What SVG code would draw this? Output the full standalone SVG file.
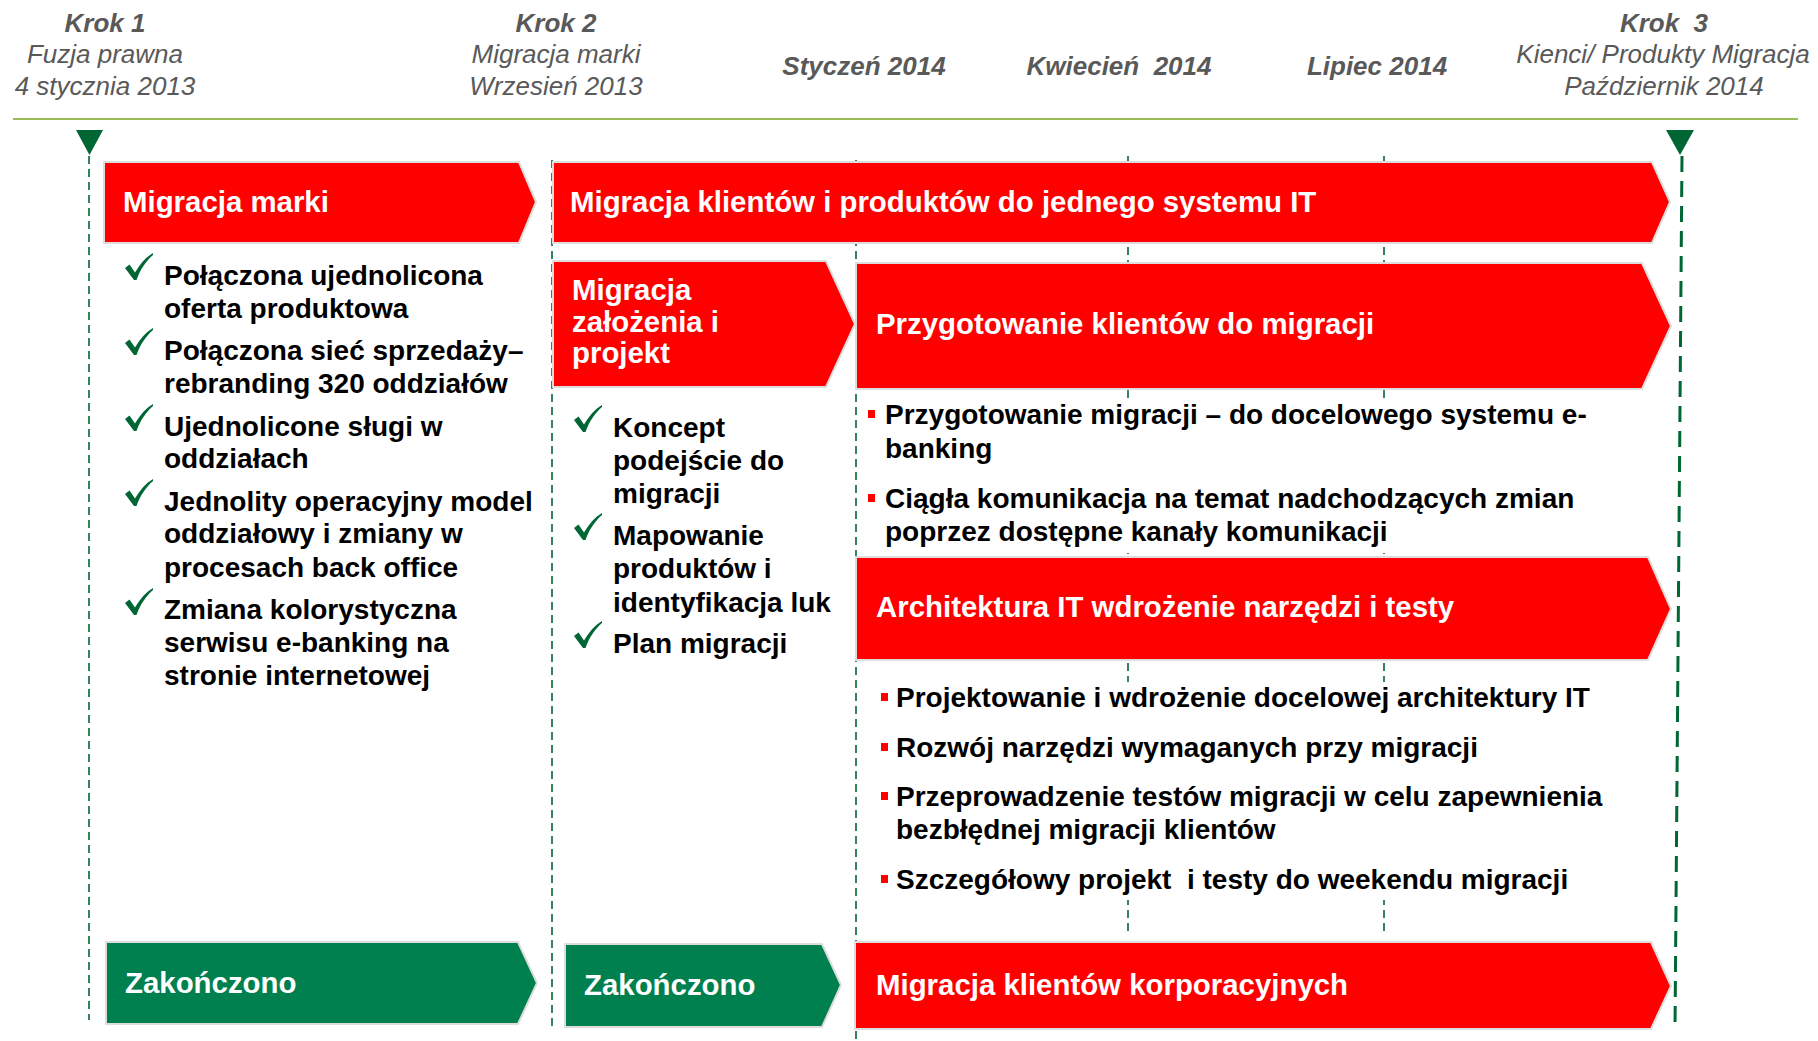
<svg xmlns="http://www.w3.org/2000/svg" xmlns:xlink="http://www.w3.org/1999/xlink" width="1818" height="1041" viewBox="0 0 1818 1041">
<style>
text{font-family:"Liberation Sans",Arial,sans-serif}
.hd{font-size:26px;fill:#595959;font-style:italic;text-anchor:middle}
.hb{font-weight:bold}
.bx{font-size:29.4px;font-weight:bold;fill:#fff}
.bd{font-size:28px;font-weight:bold;fill:#000}
.red{fill:#FF0000;stroke:#DDDDDD;stroke-width:2}
.grn{fill:#00804E;stroke:#DDDDDD;stroke-width:2}
.dl{stroke:#006633;stroke-width:1.6;stroke-dasharray:8,5;fill:none}
.dk{stroke:#006633;stroke-width:3;stroke-dasharray:16,9;fill:none}
.sq{fill:#FF0000}
</style>
<defs>
<symbol id="chk" viewBox="0 0 28 27" width="28" height="27">
<path d="M0,15 L4.5,11.5 L10,19.5 C15,11 21,4 28,0 L28,2 C21,8 15.5,16 11.5,27 L9,27 Z" fill="#006633"/>
</symbol>
</defs>
<rect width="1818" height="1041" fill="#fff"/>
<g id="header">
<text class="hd hb" x="105" y="32">Krok 1</text>
<text class="hd" x="105" y="63">Fuzja prawna</text>
<text class="hd" x="105" y="95">4 stycznia 2013</text>
<text class="hd hb" x="556" y="32">Krok 2</text>
<text class="hd" x="556" y="63">Migracja marki</text>
<text class="hd" x="556" y="95">Wrzesień 2013</text>
<text class="hd hb" x="864" y="75">Styczeń 2014</text>
<text class="hd hb" x="1119" y="75" xml:space="preserve">Kwiecień  2014</text>
<text class="hd hb" x="1377" y="75">Lipiec 2014</text>
<text class="hd hb" x="1664" y="32" xml:space="preserve">Krok  3</text>
<text class="hd" x="1663" y="63">Kienci/ Produkty Migracja</text>
<text class="hd" x="1664" y="95">Październik 2014</text>
<line x1="13" y1="119" x2="1798" y2="119" stroke="#9BBB59" stroke-width="2"/>
<polygon points="76,130 103,130 89.5,155" fill="#006633"/>
<polygon points="1666,130 1694,130 1680,155" fill="#006633"/>
</g>
<g id="gridlines">
<line class="dl" x1="89" y1="156" x2="89" y2="1020"/>
<line class="dl" x1="552" y1="160" x2="552" y2="1030"/>
<line class="dl" x1="856" y1="160" x2="856" y2="1041"/>
<line class="dl" x1="1128" y1="156" x2="1128" y2="936"/>
<line class="dl" x1="1384" y1="156" x2="1384" y2="936"/>
<line class="dk" x1="1682" y1="156" x2="1675" y2="1030"/>
<rect x="862" y="398" width="800" height="155" fill="#fff"/>
<rect x="862" y="682" width="800" height="218" fill="#fff"/>
</g>
<g id="box-migracja-marki">
<polygon class="red" points="104,162 519,162 536,202 519,243 104,243"/>
<text class="bx" x="123" y="212">Migracja marki</text>
</g>
<g id="list-marki">
<use xlink:href="#chk" x="125" y="253"/>
<use xlink:href="#chk" x="125" y="328"/>
<use xlink:href="#chk" x="125" y="404"/>
<use xlink:href="#chk" x="125" y="479"/>
<use xlink:href="#chk" x="125" y="588"/>
<text class="bd" x="164" y="285">Połączona ujednolicona</text>
<text class="bd" x="164" y="318">oferta produktowa</text>
<text class="bd" x="164" y="360">Połączona sieć sprzedaży–</text>
<text class="bd" x="164" y="393">rebranding 320 oddziałów</text>
<text class="bd" x="164" y="436">Ujednolicone sługi w</text>
<text class="bd" x="164" y="468">oddziałach</text>
<text class="bd" x="164" y="511">Jednolity operacyjny model</text>
<text class="bd" x="164" y="543">oddziałowy i zmiany w</text>
<text class="bd" x="164" y="577">procesach back office</text>
<text class="bd" x="164" y="619">Zmiana kolorystyczna</text>
<text class="bd" x="164" y="652">serwisu e-banking na</text>
<text class="bd" x="164" y="685">stronie internetowej</text>
</g>
<g id="box-migracja-klientow">
<polygon class="red" points="553,162 1652,162 1670,202 1652,243 553,243"/>
<text class="bx" x="570" y="212">Migracja klientów i produktów do jednego systemu IT</text>
</g>
<g id="box-zalozenia">
<polygon class="red" points="553,261 826,261 855,324 826,387 553,387"/>
<text class="bx" x="572" y="300">Migracja</text>
<text class="bx" x="572" y="332">założenia i</text>
<text class="bx" x="572" y="363">projekt</text>
</g>
<g id="list-zalozenia">
<use xlink:href="#chk" x="574" y="405"/>
<use xlink:href="#chk" x="574" y="513"/>
<use xlink:href="#chk" x="574" y="621"/>
<text class="bd" x="613" y="437">Koncept</text>
<text class="bd" x="613" y="470">podejście do</text>
<text class="bd" x="613" y="503">migracji</text>
<text class="bd" x="613" y="545">Mapowanie</text>
<text class="bd" x="613" y="578">produktów i</text>
<text class="bd" x="613" y="612">identyfikacja luk</text>
<text class="bd" x="613" y="653">Plan migracji</text>
</g>
<g id="box-przygotowanie">
<polygon class="red" points="856,263 1642,263 1671,326 1642,389 856,389"/>
<text class="bx" x="876" y="334">Przygotowanie klientów do migracji</text>
</g>
<g id="list-przygotowanie">
<rect class="sq" x="868" y="410" width="7" height="8"/>
<rect class="sq" x="868" y="494" width="7" height="8"/>
<text class="bd" x="885" y="424">Przygotowanie migracji – do docelowego systemu e-</text>
<text class="bd" x="885" y="458">banking</text>
<text class="bd" x="885" y="508">Ciągła komunikacja na temat nadchodzących zmian</text>
<text class="bd" x="885" y="541">poprzez dostępne kanały komunikacji</text>
</g>
<g id="box-architektura">
<polygon class="red" points="856,557 1648,557 1671,609 1648,660 856,660"/>
<text class="bx" x="876" y="617">Architektura IT wdrożenie narzędzi i testy</text>
</g>
<g id="list-architektura">
<rect class="sq" x="881" y="693" width="7" height="8"/>
<rect class="sq" x="881" y="743" width="7" height="8"/>
<rect class="sq" x="881" y="792" width="7" height="8"/>
<rect class="sq" x="881" y="875" width="7" height="8"/>
<text class="bd" x="896" y="707">Projektowanie i wdrożenie docelowej architektury IT</text>
<text class="bd" x="896" y="757">Rozwój narzędzi wymaganych przy migracji</text>
<text class="bd" x="896" y="806">Przeprowadzenie testów migracji w celu zapewnienia</text>
<text class="bd" x="896" y="839">bezbłędnej migracji klientów</text>
<text class="bd" x="896" y="889" xml:space="preserve">Szczegółowy projekt  i testy do weekendu migracji</text>
</g>
<g id="box-zakonczono-1">
<polygon class="grn" points="106,942 518,942 537,983 518,1024 106,1024"/>
<text class="bx" x="125" y="993">Zakończono</text>
</g>
<g id="box-zakonczono-2">
<polygon class="grn" points="565,944 822,944 841,985 822,1027 565,1027"/>
<text class="bx" x="584" y="995">Zakończono</text>
</g>
<g id="box-korporacyjni">
<polygon class="red" points="855,942 1651,942 1671,986 1651,1029 855,1029"/>
<text class="bx" x="876" y="995">Migracja klientów korporacyjnych</text>
</g>
</svg>
